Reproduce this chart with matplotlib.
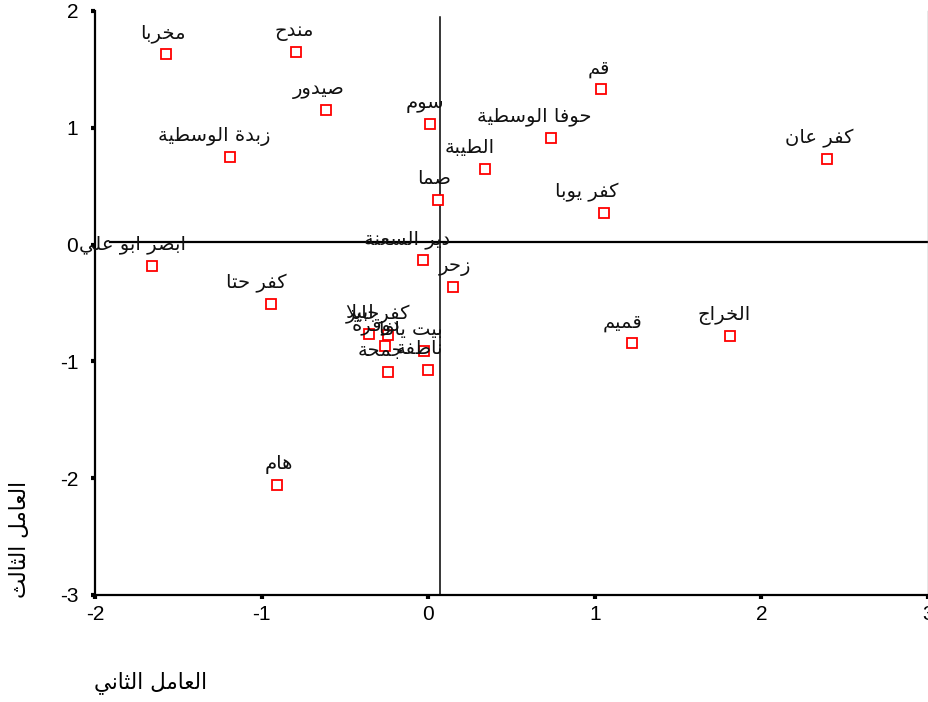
import matplotlib
matplotlib.use("Agg")
import matplotlib.pyplot as plt
from matplotlib.transforms import offset_copy

# ---------------------------------------------------------------- data
villages = [
    "مخربا", "مندح", "صيدور", "سوم", "زبدة الوسطية", "صما",
    "قم", "حوفا الوسطية", "الطيبة", "كفر عان", "كفر يوبا",
    "ابصر ابو علي", "دير السعنة", "زحر", "كفر حتا",
    "ابيلا", "كفرجايز", "دوقرة", "بيت يافا", "جمحة", "ناطفة",
    "قميم", "الخراج", "هام",
]
factor2 = [
    -1.571, -0.794, -0.614, 0.010, -1.188, 0.060,
    1.040, 0.736, 0.342, 2.391, 1.054,
    -1.657, -0.030, 0.150, -0.946,
    -0.358, -0.244, -0.258, -0.028, -0.242, -0.004,
    1.223, 1.809, -0.906,
]
factor3 = [
    1.629, 1.646, 1.150, 1.030, 0.750, 0.385,
    1.330, 0.915, 0.647, 0.730, 0.268,
    -0.181, -0.132, -0.360, -0.511,
    -0.763, -0.777, -0.872, -0.911, -1.091, -1.074,
    -0.845, -0.780, -2.056,
]
ref_x = 0.07
ref_y = 0.02
x_ticks = [-2, -1, 0, 1, 2, 3]
y_ticks = [-3, -2, -1, 0, 1, 2]
x_title = "العامل الثاني"
y_title = "العامل الثالث"

# horizontal nudge (pixels) of each name relative to its marker
label_nudge_px = [
    -4, -2, -7, -5, -16, -4,
    -3, -17, -15, -7, -17,
    -20, -16, 2, -14,
    -9, -10, -9, -13, -7, -8,
    -9, -5, 2,
]

# ------------------------------------------------- simple Arabic shaping
# (isolated, final, initial, medial); letters that never join forward
# only have isolated and final forms.
FORMS = {
    "ء": (0xFE80, None, None, None),
    "ا": (0xFE8D, 0xFE8E, None, None),
    "أ": (0xFE83, 0xFE84, None, None),
    "إ": (0xFE87, 0xFE88, None, None),
    "آ": (0xFE81, 0xFE82, None, None),
    "ب": (0xFE8F, 0xFE90, 0xFE91, 0xFE92),
    "ة": (0xFE93, 0xFE94, None, None),
    "ت": (0xFE95, 0xFE96, 0xFE97, 0xFE98),
    "ث": (0xFE99, 0xFE9A, 0xFE9B, 0xFE9C),
    "ج": (0xFE9D, 0xFE9E, 0xFE9F, 0xFEA0),
    "ح": (0xFEA1, 0xFEA2, 0xFEA3, 0xFEA4),
    "خ": (0xFEA5, 0xFEA6, 0xFEA7, 0xFEA8),
    "د": (0xFEA9, 0xFEAA, None, None),
    "ذ": (0xFEAB, 0xFEAC, None, None),
    "ر": (0xFEAD, 0xFEAE, None, None),
    "ز": (0xFEAF, 0xFEB0, None, None),
    "س": (0xFEB1, 0xFEB2, 0xFEB3, 0xFEB4),
    "ش": (0xFEB5, 0xFEB6, 0xFEB7, 0xFEB8),
    "ص": (0xFEB9, 0xFEBA, 0xFEBB, 0xFEBC),
    "ض": (0xFEBD, 0xFEBE, 0xFEBF, 0xFEC0),
    "ط": (0xFEC1, 0xFEC2, 0xFEC3, 0xFEC4),
    "ظ": (0xFEC5, 0xFEC6, 0xFEC7, 0xFEC8),
    "ع": (0xFEC9, 0xFECA, 0xFECB, 0xFECC),
    "غ": (0xFECD, 0xFECE, 0xFECF, 0xFED0),
    "ف": (0xFED1, 0xFED2, 0xFED3, 0xFED4),
    "ق": (0xFED5, 0xFED6, 0xFED7, 0xFED8),
    "ك": (0xFED9, 0xFEDA, 0xFEDB, 0xFEDC),
    "ل": (0xFEDD, 0xFEDE, 0xFEDF, 0xFEE0),
    "م": (0xFEE1, 0xFEE2, 0xFEE3, 0xFEE4),
    "ن": (0xFEE5, 0xFEE6, 0xFEE7, 0xFEE8),
    "ه": (0xFEE9, 0xFEEA, 0xFEEB, 0xFEEC),
    "و": (0xFEED, 0xFEEE, None, None),
    "ى": (0xFEEF, 0xFEF0, None, None),
    "ي": (0xFEF1, 0xFEF2, 0xFEF3, 0xFEF4),
}


def _joins_forward(ch):
    return ch in FORMS and FORMS[ch][2] is not None


def shape_arabic(text):
    """Contextual forms + visual (right-to-left) order for plain Arabic."""
    glyphs = []
    i = 0
    n = len(text)
    while i < n:
        ch = text[i]
        prev = text[i - 1] if i > 0 else None
        joins_prev = prev is not None and _joins_forward(prev) and ch in FORMS \
            and FORMS[ch][1] is not None
        if ch == "ل" and i + 1 < n and text[i + 1] == "ا":
            glyphs.append(chr(0xFEFC if joins_prev else 0xFEFB))
            i += 2
            continue
        if ch not in FORMS:
            glyphs.append(ch)
            i += 1
            continue
        nxt = text[i + 1] if i + 1 < n else None
        joins_next = _joins_forward(ch) and nxt in FORMS and FORMS[nxt][1] is not None
        iso, fin, ini, med = FORMS[ch]
        if joins_prev and joins_next:
            g = med
        elif joins_prev:
            g = fin
        elif joins_next:
            g = ini
        else:
            g = iso
        glyphs.append(chr(g))
        i += 1
    return "".join(reversed(glyphs))


# ---------------------------------------------------------------- figure
plt.rcParams["font.family"] = ["Liberation Sans", "DejaVu Sans"]
DPI = 100
fig = plt.figure(figsize=(9.29, 7.02), dpi=DPI)
W, H = 929, 702
ax_left, ax_right, ax_top, ax_bottom = 95, 928, 11, 595
ax = fig.add_axes([ax_left / W, 1 - ax_bottom / H,
                   (ax_right - ax_left) / W, (ax_bottom - ax_top) / H])

ax.set_xlim(-2, 3)
ax.set_ylim(-3, 2)

# reference lines
ax.axvline(ref_x, ymin=0, ymax=0.99, color="black", lw=1.1, zorder=1)
ax.axhline(ref_y, xmin=0.018, xmax=1, color="black", lw=1.6, zorder=1)

ax.plot(factor2, factor3, linestyle="none", marker="s", markersize=6.5,
        markerfacecolor="white", markeredgecolor="#ff0000",
        markeredgewidth=1.3, zorder=3)

px = 72.0 / DPI
for name, xv, yv, dx in zip(villages, factor2, factor3, label_nudge_px):
    tr = offset_copy(ax.transData, fig=fig, x=dx * px, y=16 * px, units="points")
    ax.text(xv, yv, shape_arabic(name), transform=tr, ha="center",
            va="baseline", fontsize=14, family=["DejaVu Sans"],
            color="#111111", zorder=4, clip_on=False)

ax.set_xticks(x_ticks)
ax.set_yticks(y_ticks)
ax.set_xticklabels([str(v) for v in x_ticks])
ax.set_yticklabels([str(v) for v in y_ticks])
ax.tick_params(axis="both", direction="out", length=3, width=3,
               labelsize=15, colors="black")
ax.tick_params(axis="x", pad=4)
ax.tick_params(axis="y", pad=9)

for side in ("left", "bottom"):
    ax.spines[side].set_linewidth(1.6)
    ax.spines[side].set_color("black")
ax.spines["top"].set_visible(False)
ax.spines["right"].set_color("#888888")
ax.spines["right"].set_linewidth(1.0)

fig.text(151 / W, 1 - 683 / H, shape_arabic(x_title), ha="center",
         va="center", fontsize=15.5, family=["DejaVu Sans"])
fig.text(20 / W, 1 - 539 / H, shape_arabic(y_title), ha="center",
         va="center", rotation=90, fontsize=15.5, family=["DejaVu Sans"])

fig.savefig("out.png", dpi=DPI, facecolor="white")
